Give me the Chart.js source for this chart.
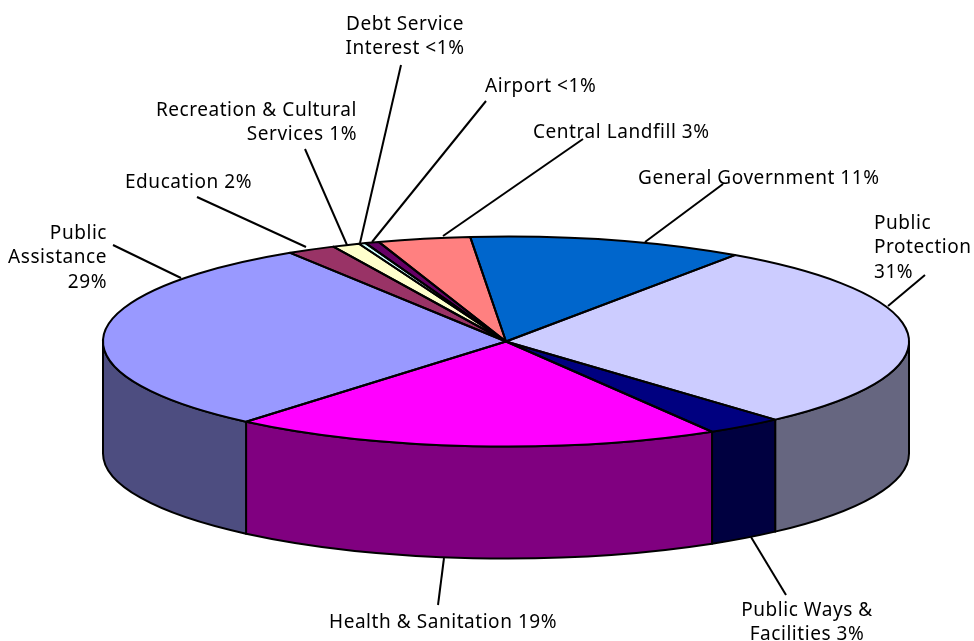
<!DOCTYPE html>
<html>
<head>
<meta charset="utf-8">
<title>Expenditures</title>
<script src="https://cdn.jsdelivr.net/npm/chart.js@4"></script>
<style>
    html, body { margin: 0; padding: 0; background: #fff; }
    canvas { display: block; }
</style>
</head>
<body>
<canvas id="pieChart" width="974" height="641"></canvas>
<script>
// slices run clockwise, starting with General Government
const categories = ['General Government', 'Public Protection', 'Public Ways & Facilities', 'Health & Sanitation', 'Public Assistance', 'Education', 'Recreation & Cultural Services', 'Debt Service Interest', 'Airport', 'Central Landfill'];
const shares = [11.03, 28.75, 3.1, 19.7, 29.85, 1.95, 1.1, 0.28, 0.55, 3.7];
const topColors = ['#0066CC', '#CCCCFF', '#000080', '#FF00FF', '#9999FF', '#993366', '#FFFFCC', '#CCFFFF', '#660066', '#FF8080'];
const wallColors = ['#003366', '#666680', '#000040', '#800080', '#4D4D80', '#4D1A33', '#808066', '#668080', '#330033', '#804040'];

// how the flat pie is laid down on the page
const disc = { x: 506, y: 341.5, rx: 403, ry: 105, depth: 112 };

// lines: text rows, align + x + y place them, from/to is the leader line
const callouts = [
    { lines: ['General Government 11%'], align: 'left', x: 638, y: 178.5, from: [723, 184], to: [645, 242] },
    { lines: ['Public', 'Protection', '31%'], align: 'left', x: 874, y: 223.5, from: [925, 275], to: [888, 306] },
    { lines: ['Public Ways &', 'Facilities 3%'], align: 'center', x: 807, y: 610.5, from: [786, 595], to: [751, 537] },
    { lines: ['Health & Sanitation 19%'], align: 'left', x: 329, y: 622.5, from: [444, 558], to: [438, 605] },
    { lines: ['Public', 'Assistance', '29%'], align: 'right', x: 107, y: 233.5, from: [113, 245], to: [181, 278] },
    { lines: ['Education 2%'], align: 'left', x: 125, y: 182.5, from: [197, 197], to: [306, 247] },
    { lines: ['Recreation & Cultural', 'Services 1%'], align: 'right', x: 357, y: 110.5, from: [305, 149], to: [347, 245] },
    { lines: ['Debt Service', 'Interest <1%'], align: 'center', x: 405, y: 24.5, from: [401, 65], to: [360, 243] },
    { lines: ['Airport <1%'], align: 'left', x: 485, y: 86.5, from: [486, 101], to: [372, 242] },
    { lines: ['Central Landfill 3%'], align: 'left', x: 533, y: 132.5, from: [583, 139], to: [443, 236] }
];

// part of the arc that faces the viewer (canvas angles 0..PI, one full turn either way)
function frontPart(start, end) {
    for (const turn of [-2, 0, 2]) {
        const a = Math.max(start, turn * Math.PI);
        const b = Math.min(end, (turn + 1) * Math.PI);
        if (b > a) return [a, b];
    }
    return null;
}

const pie3d = {
    id: 'pie3d',
    beforeDatasetsDraw(chart) {
        const ctx = chart.ctx;
        const arcs = chart.getDatasetMeta(0).data;
        ctx.save();
        ctx.lineWidth = 2;
        ctx.strokeStyle = '#000';
        ctx.lineJoin = 'round';
        arcs.forEach((arc, i) => {
            const part = frontPart(arc.startAngle, arc.endAngle);
            if (!part) return;
            ctx.beginPath();
            ctx.ellipse(disc.x, disc.y, disc.rx, disc.ry, 0, part[0], part[1]);
            ctx.ellipse(disc.x, disc.y + disc.depth, disc.rx, disc.ry, 0, part[1], part[0], true);
            ctx.closePath();
            ctx.fillStyle = wallColors[i];
            ctx.fill();
            ctx.stroke();
        });
        ctx.restore();
    },
    beforeDatasetDraw(chart) {
        const ctx = chart.ctx;
        const arc = chart.getDatasetMeta(0).data[0];
        ctx.save();
        ctx.translate(disc.x, disc.y);
        ctx.scale(disc.rx / arc.outerRadius, disc.ry / arc.outerRadius);
        ctx.translate(-arc.x, -arc.y);
    },
    afterDatasetDraw(chart) {
        const ctx = chart.ctx;
        ctx.restore();
        // outline after the squash, otherwise the pen gets squashed as well
        ctx.save();
        ctx.lineWidth = 2;
        ctx.strokeStyle = '#000';
        ctx.lineJoin = 'round';
        chart.getDatasetMeta(0).data.forEach(arc => {
            ctx.beginPath();
            ctx.moveTo(disc.x, disc.y);
            ctx.ellipse(disc.x, disc.y, disc.rx, disc.ry, 0, arc.startAngle, arc.endAngle);
            ctx.closePath();
            ctx.stroke();
        });
        ctx.restore();
    },
    afterDraw(chart) {
        const ctx = chart.ctx;
        ctx.save();
        ctx.strokeStyle = '#000';
        ctx.lineWidth = 2;
        callouts.forEach(c => {
            ctx.beginPath();
            ctx.moveTo(c.from[0], c.from[1]);
            ctx.lineTo(c.to[0], c.to[1]);
            ctx.stroke();
        });
        ctx.fillStyle = '#000';
        ctx.font = '19px "Noto Sans"';
        ctx.letterSpacing = '0.55px';
        ctx.textBaseline = 'middle';
        callouts.forEach(c => {
            ctx.textAlign = c.align;
            c.lines.forEach((line, row) => ctx.fillText(line, c.x, c.y + row * 24.5));
        });
        ctx.restore();
    }
};

new Chart(document.getElementById('pieChart'), {
    type: 'pie',
    data: {
        labels: categories,
        datasets: [{
            data: shares,
            backgroundColor: topColors,
            borderWidth: 0
        }]
    },
    options: {
        responsive: false,
        animation: false,
        rotation: -5.1,
        events: [],
        plugins: {
            legend: { display: false },
            tooltip: { enabled: false }
        }
    },
    plugins: [pie3d]
});
</script>
</body>
</html>
